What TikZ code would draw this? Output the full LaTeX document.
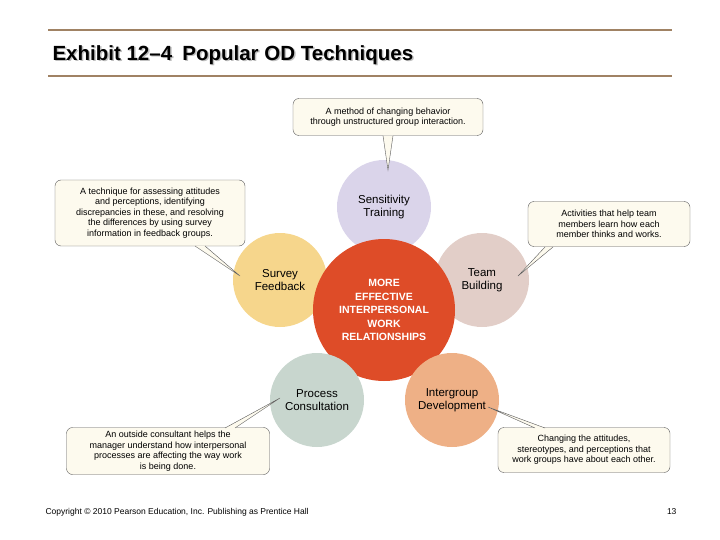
\documentclass[tikz,border=0pt]{standalone}
\usepackage{fontspec}
\setmainfont{Liberation Sans}
\usetikzlibrary{positioning}
\definecolor{rule brown}{RGB}{160,130,100}
\definecolor{core red}{RGB}{222,76,40}
\definecolor{lilac}{RGB}{218,212,234}
\definecolor{rose}{RGB}{226,206,200}
\definecolor{sand}{RGB}{246,214,140}
\definecolor{sage}{RGB}{200,214,206}
\definecolor{peach}{RGB}{238,176,134}
\definecolor{cream}{RGB}{253,250,238}
\tikzset{
  technique/.style={circle, minimum size=94pt, inner sep=0pt, align=center, font=\fontsize{11.5}{13}\selectfont},
  callout/.style={draw=gray!70!black, fill=cream, rounded corners=6pt, align=center, font=\fontsize{9}{10.5}\selectfont, inner sep=2pt},
  pointer/.style={draw=gray!70!black, fill=cream, line width=0.4pt}
}
\begin{document}
\begin{tikzpicture}[x=1pt,y=-1pt]
  \useasboundingbox (0,0) rectangle (720,540);
  % title and rules
  \draw[rule brown, line width=1.2pt] (48,30) -- (672,30);
  \draw[rule brown, line width=1.2pt] (48,76) -- (672,76);
  \node[anchor=west, font=\bfseries\fontsize{20.5}{22}\selectfont, text=gray!50] at (50.5,56.5) {Exhibit 12–4\enspace Popular OD Techniques};
  \node[anchor=west, font=\bfseries\fontsize{20.5}{22}\selectfont] (title) at (49,55) {Exhibit 12–4\enspace Popular OD Techniques};
  % circles
  \node[technique, fill=lilac] (sens) at (384,207) {Sensitivity\\Training};
  \node[technique, fill=rose] (team) at (482,280) {Team\\Building};
  \node[technique, fill=sand] (survey) at (280,280) {Survey\\Feedback};
  \node[technique, fill=core red, minimum size=142pt, text=white, font=\bfseries\fontsize{10.5}{13.5}\selectfont] (core) at (384,310)
    {MORE\\EFFECTIVE\\INTERPERSONAL\\WORK\\RELATIONSHIPS};
  \node[technique, fill=sage] (proc) at (317,400) {Process\\Consultation};
  \node[technique, fill=peach] (inter) at (452,400) {Intergroup\\Development};
  % callouts
  \node[callout, minimum width=190pt, minimum height=37pt] (sensnote) at (388,117)
    {A method of changing behavior\\through unstructured group interaction.};
  \node[callout, minimum width=190pt, minimum height=66pt] (surveynote) at (150,213)
    {A technique for assessing attitudes\\and perceptions, identifying\\discrepancies in these, and resolving\\the differences by using survey\\information in feedback groups.};
  \node[callout, minimum width=162pt, minimum height=45pt] (teamnote) at (609,224)
    {Activities that help team\\members learn how each\\member thinks and works.};
  \node[callout, minimum width=203pt, minimum height=47pt] (procnote) at (168,451)
    {An outside consultant helps the\\manager understand how interpersonal\\processes are affecting the way work\\is being done.};
  \node[callout, minimum width=172pt, minimum height=45pt] (internote) at (584,450)
    {Changing the attitudes,\\stereotypes, and perceptions that\\work groups have about each other.};
  % pointers
  \draw[pointer] ([xshift=-5pt]sensnote.south) -- (388,170) -- ([xshift=5pt]sensnote.south);
  \draw[pointer] (195,246) -- (240,276) -- (205,246);
  \draw[pointer] (545,247) -- (518,276) -- (553,247);
  \draw[pointer] (225,428) -- (280,398) -- (235,428);
  \draw[pointer] (535,428) -- (488,407) -- (545,428);
  % footer
  \node[anchor=west, font=\fontsize{8.5}{10}\selectfont] (copy) at (42,512) {Copyright © 2010 Pearson Education, Inc. Publishing as Prentice Hall};
  \node[anchor=east, font=\fontsize{8.5}{10}\selectfont] (page) at (680,512) {13};
\end{tikzpicture}
\end{document}
